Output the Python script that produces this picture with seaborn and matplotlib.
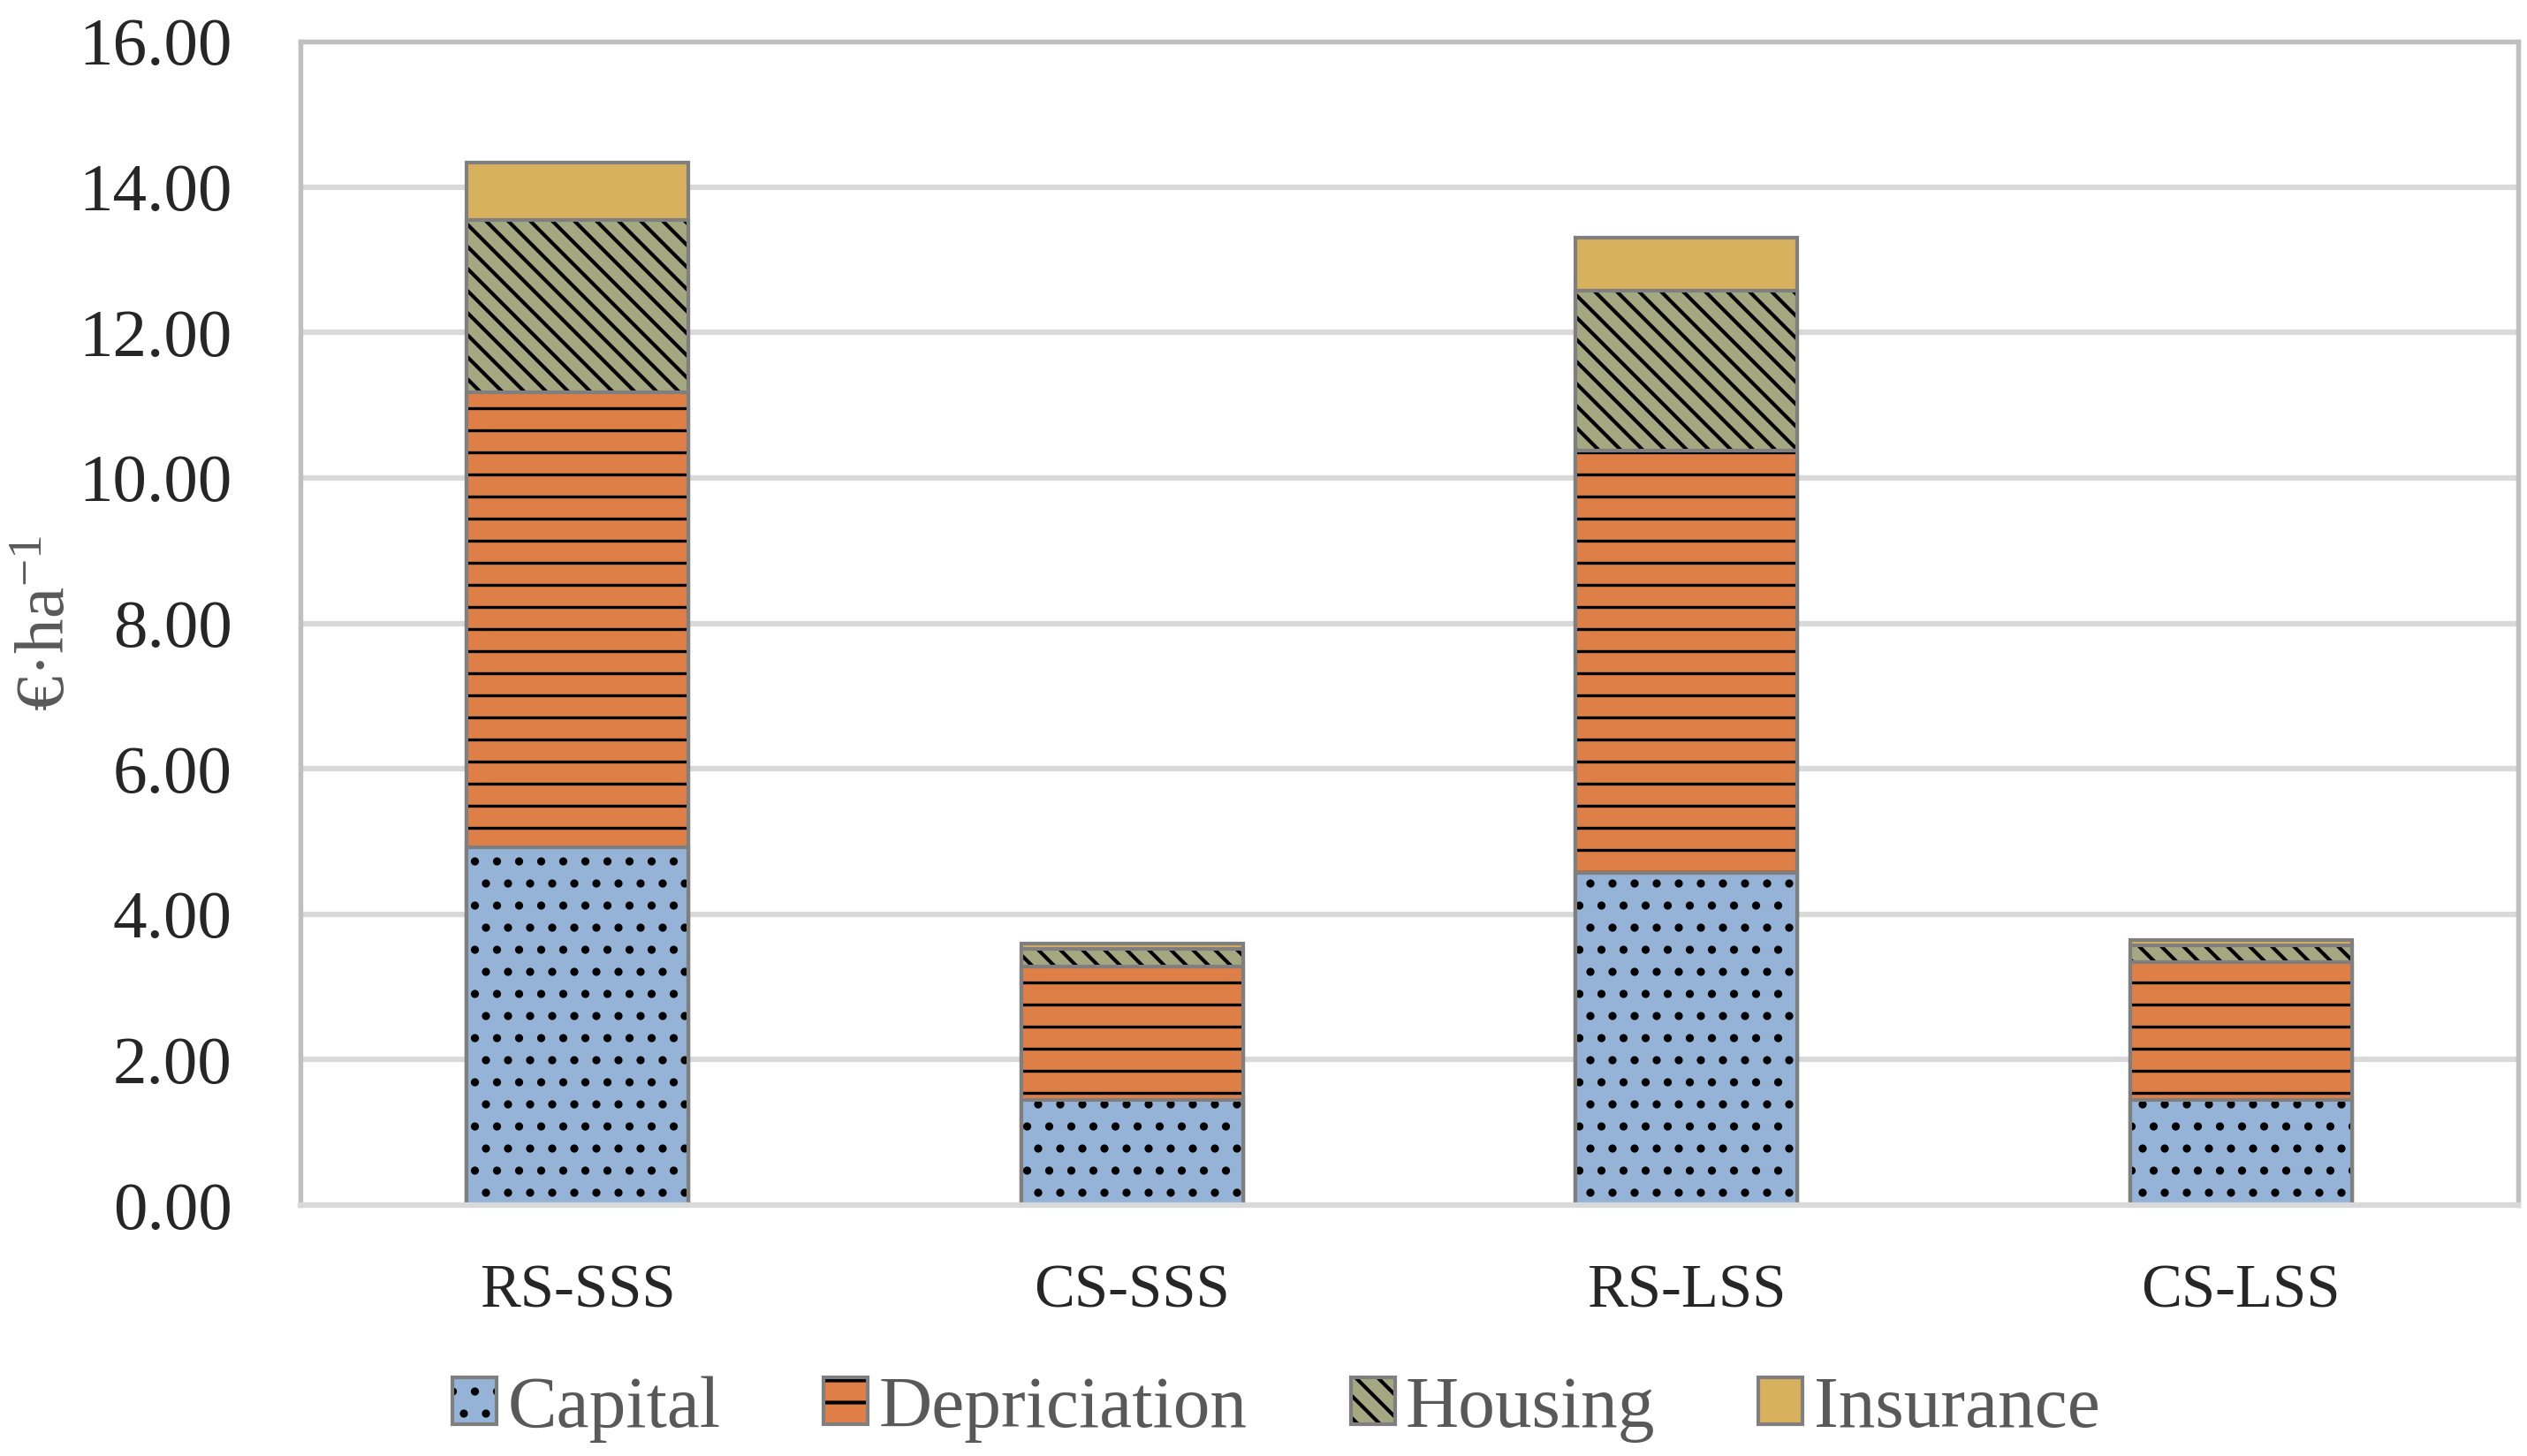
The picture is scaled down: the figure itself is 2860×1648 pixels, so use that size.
import numpy as np
import pandas as pd
import matplotlib
matplotlib.use("Agg")
import matplotlib.pyplot as plt
import seaborn as sns
from matplotlib.patches import Patch
from matplotlib.ticker import FormatStrFormatter

# ---------------- data ----------------
categories = ["RS-SSS", "CS-SSS", "RS-LSS", "CS-LSS"]
components = ["Capital", "Depriciation", "Housing", "Insurance"]
capital = [4.92, 1.45, 4.57, 1.45]
depreciation = [6.26, 1.83, 5.80, 1.89]
housing = [2.37, 0.24, 2.20, 0.23]
insurance = [0.78, 0.07, 0.73, 0.08]
y_ticks = [0, 2, 4, 6, 8, 10, 12, 14, 16]

# ---------------- style ----------------
colors = ["#95B3D7", "#DF7F48", "#A3A880", "#D8B15E"]
hatches = ["..", "--", "\\\\\\\\", ""]
hatch_lw = [1.0, 0.8, 1.0, 1.0]
edge_col = "#7F7F7F"

sns.set_style("white")
plt.rcParams["font.family"] = ["Liberation Serif", "DejaVu Serif"]
plt.rcParams["mathtext.default"] = "regular"
plt.rcParams["hatch.linewidth"] = 1.0

DPI = 300
fig = plt.figure(figsize=(2860 / DPI, 1648 / DPI), dpi=DPI)
ax = fig.add_axes([340 / 2860, 1 - 1364 / 1648, 2510 / 2860, 1317 / 1648])

df = pd.DataFrame({"category": categories, "Capital": capital,
                   "Depriciation": depreciation, "Housing": housing,
                   "Insurance": insurance})
cum = df[components].cumsum(axis=1)

for i in reversed(range(len(components))):
    comp = components[i]
    layer = pd.DataFrame({"category": categories, "value": cum[comp].values})
    # filled + hatched layer
    sns.barplot(data=layer, x="category", y="value", order=categories,
                color=colors[i], saturation=1, width=0.4, errorbar=None, ax=ax)
    for p in ax.containers[-1]:
        p.set_facecolor(colors[i])
        p.set_edgecolor("black")
        p.set_linewidth(0)
        p.set_hatch(hatches[i])
        if hasattr(p, "set_hatch_linewidth"):
            p.set_hatch_linewidth(hatch_lw[i])
    # outline layer
    sns.barplot(data=layer, x="category", y="value", order=categories,
                color=colors[i], saturation=1, width=0.4, errorbar=None, ax=ax)
    for p in ax.containers[-1]:
        p.set_facecolor("none")
        p.set_edgecolor(edge_col)
        p.set_linewidth(1.0)
        p.set_hatch(None)

ax.set_ylim(0, 16)
ax.set_yticks(y_ticks)
ax.yaxis.set_major_formatter(FormatStrFormatter("%.2f"))
ax.set_axisbelow(True)
ax.yaxis.grid(True, color="#D9D9D9", linewidth=1.5)
ax.xaxis.grid(False)

for s in ["left", "top", "right"]:
    ax.spines[s].set_visible(True)
    ax.spines[s].set_color("#BFBFBF")
    ax.spines[s].set_linewidth(1.3)
ax.spines["bottom"].set_color("#D9D9D9")
ax.spines["bottom"].set_linewidth(1.5)

ax.tick_params(axis="y", length=0, pad=18.5, labelsize=18.5, labelcolor="#262626")
ax.tick_params(axis="x", length=0, pad=16, labelsize=16.5, labelcolor="#262626")
ax.set_xlabel("")
ax.set_ylabel("€·ha$^{-1}$", fontsize=19, color="#595959")
ax.yaxis.set_label_coords(-0.1, 0.5)

handles = []
for col, h in zip(colors, hatches):
    f = Patch(facecolor=col, edgecolor="black", linewidth=0, hatch=h)
    o = Patch(facecolor="none", edgecolor=edge_col, linewidth=1.0)
    handles.append((f, o))
leg = fig.legend(handles, components, loc="center",
                 bbox_to_anchor=(0.505, 1 - 1595 / 1648), ncol=4, frameon=False,
                 handlelength=0.6, handleheight=0.6, handletextpad=0.15,
                 columnspacing=1.4, fontsize=20)
for t in leg.get_texts():
    t.set_color("#595959")

fig.savefig("out.png", dpi=DPI)
